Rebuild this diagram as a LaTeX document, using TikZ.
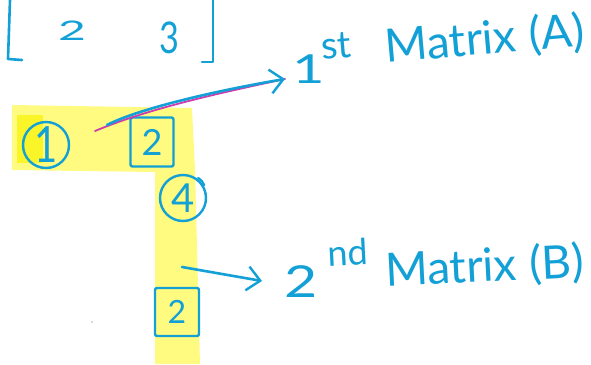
\documentclass[tikz,border=0pt]{standalone}
\usepackage{fontspec}
\setmainfont{Lato}
\usetikzlibrary{arrows.meta}
\definecolor{ink}{RGB}{18,160,214}
\definecolor{hl}{RGB}{255,250,128}
\definecolor{hldeep}{RGB}{250,245,40}
\definecolor{marker}{RGB}{205,60,175}
\newcommand{\fs}[1]{\fontsize{#1}{#1}\selectfont}
\begin{document}
\begin{tikzpicture}[x=1pt,y=-1pt,line cap=round,line join=round,
  pen/.style={draw=ink,line width=2.6pt},
  num/.style={text=ink,inner sep=0pt},
  ringed/.style={num,circle,draw=ink,line width=2.4pt},
  boxed/.style={num,rectangle,draw=ink,line width=2.4pt,rounded corners=2pt},
  lbl/.style={text=ink,inner sep=0pt,anchor=base west},
  barb/.style={-{Straight Barb[length=13pt,width=24pt,line width=2.4pt]}}
]
\useasboundingbox (0,0) rectangle (591,364);

% highlighter strokes
\fill[hl] (12,105) -- (192,108) -- (195,170) -- (200,364) -- (155,364)
  -- (155,172) -- (12,170) -- cycle;
\fill[hldeep] (17,115) rectangle (43,163);

% bracketed row
\draw[pen] (10,0) -- (8,59) -- (22,60);
\draw[pen] (213,0) -- (213,62) -- (202,62);
\node[num,font=\fs{30}] (topTwo) at (72,31) {\scalebox{1.6}[0.9]{2}};
\node[num,font=\fs{38}] (topThree) at (169,38) {\scalebox{0.9}[1.15]{3}};

% entries
\node[ringed,font=\fs{40},minimum width=43pt,minimum height=46pt] (one) at (46,145) {\scalebox{1}[1.25]{1}};
\node[boxed,font=\fs{36},minimum width=43pt,minimum height=49pt] (boxTwo) at (152,142) {2};
\node[ringed,font=\fs{40},minimum size=46pt] (four) at (183,198) {4};
\draw[draw=ink,line width=2.2pt] (four.north east) ++(-2,-3) arc[start angle=60,end angle=20,radius=14pt];
\node[boxed,font=\fs{32},minimum width=44pt,minimum height=48pt] (boxTwoB) at (177,312) {2};
\fill[gray!60] (92,322) circle (0.8pt);

% first label and its arrow
\node[lbl,font=\fs{40}] (labAone) at (292,83) {\scalebox{1.4}[1]{1}};
\node[lbl,font=\fs{38},rotate=5] (labAsup) at (322,60) {st};
\node[lbl,font=\fs{46},rotate=5] (labA) at (386,63) {Matrix};
\node[lbl,font=\fs{46},rotate=5] (labAtag) at (530,51) {(A)};
\coordinate (startA) at (95,131);
\coordinate (startAb) at (107,125);
\coordinate (tipA) at (285,79);
\draw[draw=marker,line width=1.8pt] (startA) .. controls (150,108) and (220,93) .. (tipA);
\draw[pen,barb] (startAb) .. controls (140,108) and (220,90) .. (tipA);

% second label and its arrow
\node[lbl,font=\fs{44}] (labBtwo) at (284,297) {\scalebox{1.3}[1]{2}};
\node[lbl,font=\fs{36},rotate=3] (labBsup) at (328,267) {nd};
\node[lbl,font=\fs{46},rotate=3] (labB) at (386,287) {Matrix};
\node[lbl,font=\fs{46},rotate=3] (labBtag) at (530,280) {(B)};
\coordinate (startB) at (182,267);
\coordinate (tipB) at (262,281);
\draw[pen,barb] (startB) -- (tipB);
\end{tikzpicture}
\end{document}
